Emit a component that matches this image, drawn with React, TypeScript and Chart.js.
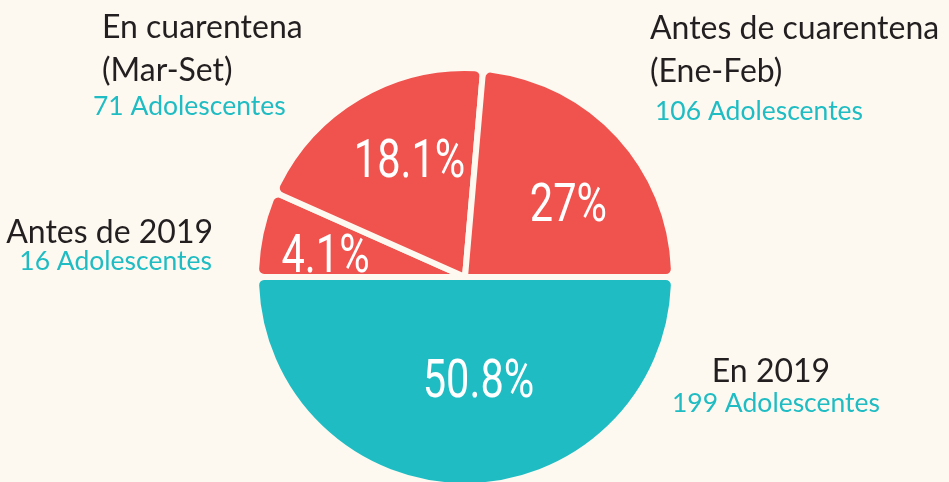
import React, { useEffect, useRef } from "react";
import { Chart, registerables } from "chart.js";

Chart.register(...registerables);

// ---- data ----
const categories = ["En 2019", "Antes de 2019", "En cuarentena (Mar-Set)", "Antes de cuarentena (Ene-Feb)"];
const adolescentCounts = [199, 16, 71, 106];
const percentLabels = ["50.8%", "4.1%", "18.1%", "27%"];
// The infographic's wedges are not drawn proportionally; these are the wedge sizes (degrees) as drawn.
const drawnArcDegrees = [180, 24, 71, 85];
const nameLines = [["En 2019"], ["Antes de 2019"], ["En cuarentena", "(Mar-Set)"], ["Antes de cuarentena", "(Ene-Feb)"]];

// ---- styles ----
const BG = "#fdf9f1";
const TEAL = "#1fbdc3";
const RED = "#f0524d";
const INK = "#231f20";
const sliceColors = [TEAL, RED, RED, RED];

const W = 949;
const H = 482;
const CANVAS_H = 500;

// percentage label placement: fraction of radius, angular nudge from wedge middle (deg)
const pctPlacement = [
  { r: 0.488, turn: -7.6 },
  { r: 0.677, turn: -2.2 },
  { r: 0.628, turn: 5.5 },
  { r: 0.611, turn: 6.6 },
];

// callout text placement (anchor x, baselines)
const calloutLayout: { align: CanvasTextAlign; x: number; ys: number[]; cx: number; cy: number }[] = [
  { align: "center", x: 771, ys: [382], cx: 776, cy: 412 },
  { align: "right", x: 213, ys: [243], cx: 212, cy: 270 },
  { align: "left", x: 102, ys: [38, 81], cx: 93, cy: 115 },
  { align: "left", x: 650, ys: [39, 82], cx: 655, cy: 120 },
];

const PCT_FONT = "Roboto, 'Liberation Sans', sans-serif";
const PCT_SIZE = 54;
const PCT_SQUEEZE = 0.77;
const LABEL_FONT = "Lato, 'Open Sans', sans-serif";

const labelPlugin = {
  id: "pieLabels",
  afterDatasetsDraw(chart: any) {
    const ctx = chart.ctx as CanvasRenderingContext2D;
    const meta = chart.getDatasetMeta(0);
    meta.data.forEach((arc: any, i: number) => {
      const { x, y, startAngle, endAngle, outerRadius } = arc.getProps(
        ["x", "y", "startAngle", "endAngle", "outerRadius"],
        true
      );
      const p = pctPlacement[i];
      const a = (startAngle + endAngle) / 2 + (p.turn * Math.PI) / 180;
      const r = outerRadius * p.r;
      const px = x + r * Math.cos(a);
      const py = y + r * Math.sin(a) + PCT_SIZE * 0.355;
      ctx.save();
      ctx.translate(px, py);
      ctx.scale(PCT_SQUEEZE, 1);
      ctx.font = `400 ${PCT_SIZE}px ${PCT_FONT}`;
      ctx.fillStyle = "#ffffff";
      ctx.textAlign = "center";
      ctx.textBaseline = "alphabetic";
      ctx.fillText(percentLabels[i], 0, 0);
      ctx.restore();
    });

    ctx.save();
    ctx.textBaseline = "alphabetic";
    calloutLayout.forEach((l, i) => {
      ctx.textAlign = l.align;
      ctx.font = `32px ${LABEL_FONT}`;
      ctx.fillStyle = INK;
      nameLines[i].forEach((line, j) => ctx.fillText(line, l.x, l.ys[j]));
      ctx.font = `26.5px ${LABEL_FONT}`;
      ctx.fillStyle = TEAL;
      ctx.fillText(`${adolescentCounts[i]} Adolescentes`, l.cx, l.cy);
    });
    ctx.restore();
  },
};

export default function App() {
  const ref = useRef<HTMLCanvasElement | null>(null);

  useEffect(() => {
    document.body.style.margin = "0";
    document.body.style.background = BG;
    const canvas = ref.current;
    if (!canvas) return;
    const chart = new Chart(canvas, {
      type: "pie",
      data: {
        labels: categories,
        datasets: [
          {
            data: drawnArcDegrees,
            backgroundColor: sliceColors,
            borderColor: BG,
            borderWidth: 6,
            borderRadius: 8,
            borderJoinStyle: "round",
            hoverOffset: 0,
            offset: 0,
          } as any,
        ],
      },
      options: {
        responsive: false,
        animation: false,
        events: [],
        rotation: 90,
        layout: { padding: { left: 253, right: W - 677, top: 65, bottom: CANVAS_H - 489 } },
        plugins: { legend: { display: false }, tooltip: { enabled: false } },
      },
      plugins: [labelPlugin],
    });
    return () => chart.destroy();
  }, []);

  return (
    <div
      style={{
        position: "absolute",
        left: 0,
        top: 0,
        width: W,
        height: H,
        overflow: "hidden",
        background: BG,
      }}
    >
      <canvas ref={ref} width={W} height={CANVAS_H} style={{ display: "block" }} />
    </div>
  );
}
